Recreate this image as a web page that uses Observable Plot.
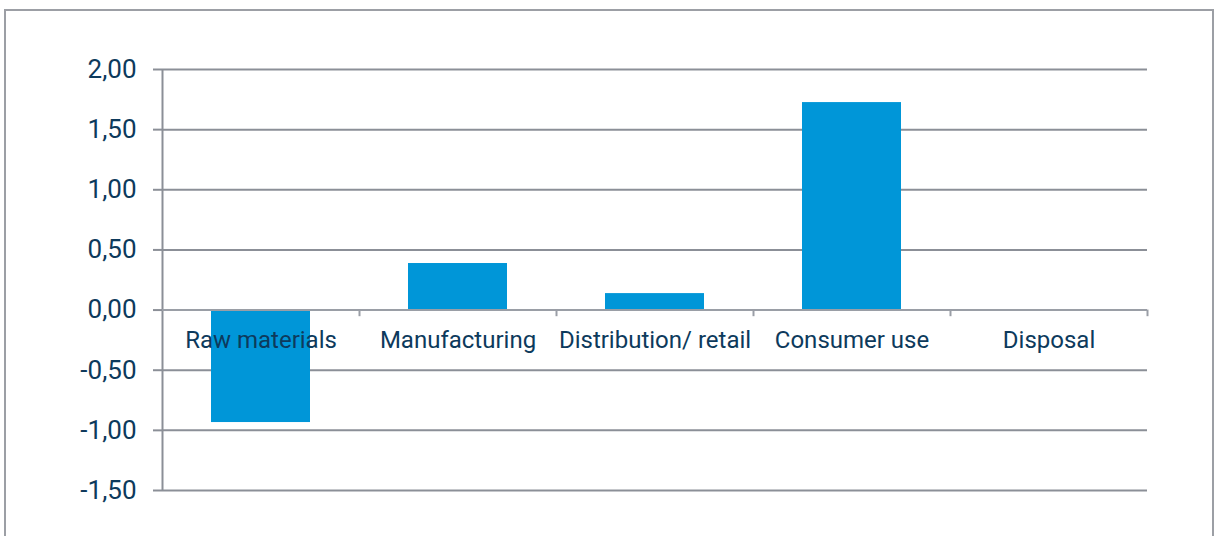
<!DOCTYPE html>
<html>
<head>
<meta charset="utf-8">
<script src="https://cdn.jsdelivr.net/npm/d3@7"></script>
<script src="https://cdn.jsdelivr.net/npm/@observablehq/plot@0.6"></script>
<style>
  html, body { margin: 0; padding: 0; background: #fff; overflow: hidden; }
  #wrap { position: relative; width: 1215px; height: 536px; }
  #frame { position: absolute; left: 4px; top: 9px; width: 1210px; height: 600px; border: 2px solid #9c9fa5; box-sizing: border-box; pointer-events: none; }
  #chart { position: absolute; left: 0; top: 0; }
</style>
</head>
<body>
<div id="wrap"><div id="chart"></div><div id="frame"></div></div>
<script>
const categories = ["Raw materials", "Manufacturing", "Distribution/ retail", "Consumer use", "Disposal"];
const values = [-0.935, 0.387, 0.137, 1.725, 0.0];
const yTicks = [-1.5, -1.0, -0.5, 0.0, 0.5, 1.0, 1.5, 2.0];

const data = categories.map((c, i) => ({category: c, value: values[i]}));

const W = 1215, H = 536, ML = 162, MR = 68, MT = 69, MB = 46;
const step = (W - ML - MR) / categories.length;
const fmt = d => d.toFixed(2).replace(".", ",");
const grid = "#8b8f97";
const textColor = "#0d3a5c";

const plot = Plot.plot({
  width: W, height: H,
  marginLeft: ML, marginRight: MR, marginTop: MT, marginBottom: MB,
  style: {fontFamily: "Roboto", background: "#fff", overflow: "visible"},
  x: {domain: categories, padding: 0, axis: null},
  y: {domain: [-1.5, 2.0], ticks: yTicks, label: null},
  marks: [
    Plot.ruleY(yTicks.filter(d => d !== 0), {stroke: grid, strokeWidth: 2}),
    Plot.axisY({ticks: yTicks, tickFormat: fmt, tickSize: 9, tickPadding: 17, fontSize: 26, stroke: grid, strokeWidth: 2, color: textColor, strokeOpacity: 1, label: null}),
    Plot.ruleX([0], {x: () => categories[0], dx: -step / 2, y1: -1.5, y2: 2.0, stroke: grid, strokeWidth: 2}),
    Plot.barY(data, {x: "category", y: "value", fill: "#0096d8", insetLeft: 49, insetRight: 49}),
    Plot.ruleY([0], {stroke: "#9a9ea6", strokeWidth: 2}),
    Plot.ruleX(categories, {x: d => d, dx: step / 2, y1: 0, y2: -0.055, stroke: "#9a9ea6", strokeWidth: 2}),
    Plot.text(data, {x: "category", y: 0, text: "category", dy: 30, fontSize: 24, fill: textColor})
  ]
});
document.getElementById("chart").appendChild(plot);
</script>
</body>
</html>
